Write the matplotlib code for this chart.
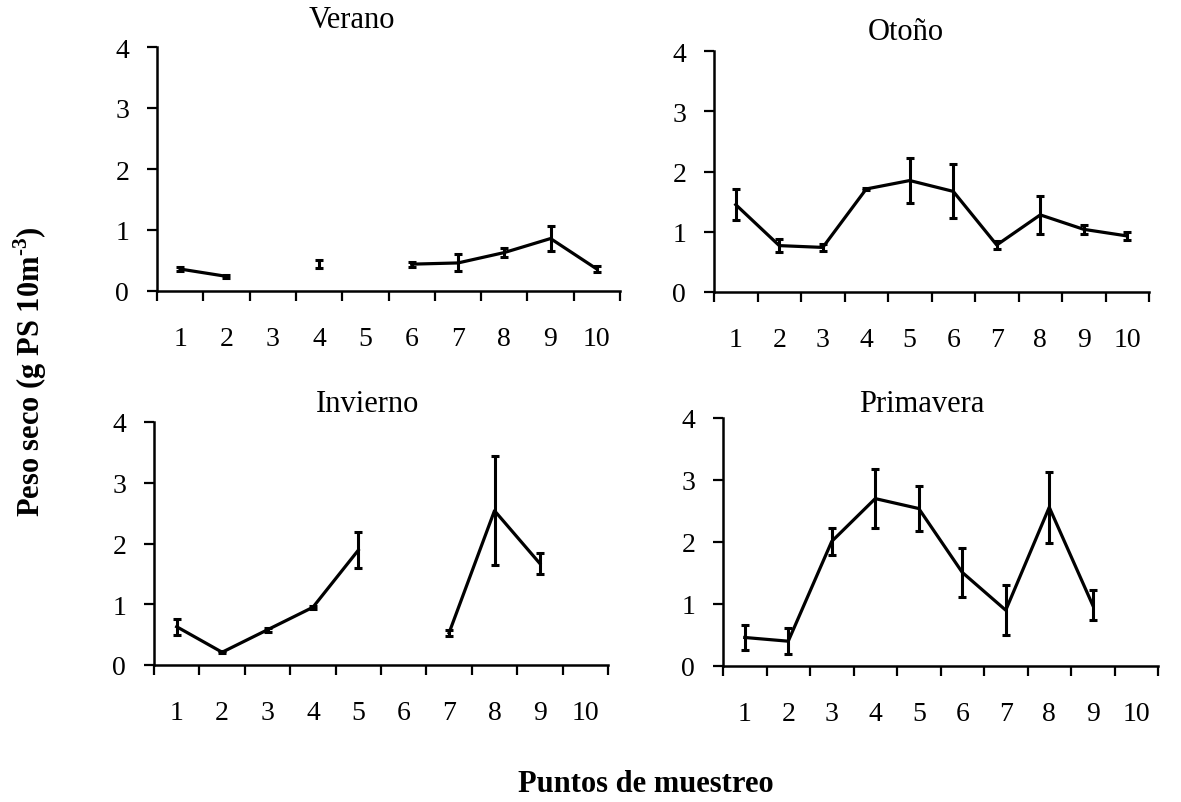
import numpy as np
import matplotlib
matplotlib.use("Agg")
import matplotlib.pyplot as plt
from matplotlib.ticker import FixedLocator, NullFormatter

plt.rcParams['font.family'] = ['Liberation Serif', 'DejaVu Serif']
plt.rcParams['mathtext.fontset'] = 'custom'
plt.rcParams['mathtext.rm'] = 'Liberation Serif:bold'
plt.rcParams['mathtext.bf'] = 'Liberation Serif:bold'

nan = np.nan
puntos = [1, 2, 3, 4, 5, 6, 7, 8, 9, 10]
point_labels = ["1", "2", "3", "4", "5", "6", "7", "8", "9", "10"]

verano = [0.36, 0.24, nan, 0.44, nan, 0.44, 0.46, 0.63, 0.86, 0.36]
verano_err = [0.03, 0.03, nan, 0.07, nan, 0.04, 0.14, 0.07, 0.20, 0.05]

otono = [1.45, 0.77, 0.74, 1.71, 1.85, 1.67, 0.78, 1.28, 1.04, 0.93]
otono_err = [0.26, 0.11, 0.06, 0.02, 0.38, 0.45, 0.06, 0.31, 0.07, 0.06]

invierno = [0.63, 0.21, 0.58, 0.95, 1.89, nan, 0.53, 2.54, 1.67, nan]
invierno_err = [0.13, 0.02, 0.03, 0.02, 0.30, nan, 0.05, 0.90, 0.17, nan]

primavera = [0.46, 0.40, 2.01, 2.70, 2.54, 1.51, 0.90, 2.56, 0.98, nan]
primavera_err = [0.20, 0.21, 0.22, 0.48, 0.37, 0.39, 0.40, 0.57, 0.24, nan]

# (title, values, errors, axes box in pixels, title centre in pixels)
panels = [
    ("Verano", verano, verano_err, [157, 48, 620, 292], (352, 20)),
    ("Otoño", otono, otono_err, [714, 52, 1149, 293], (906, 32)),
    ("Invierno", invierno, invierno_err, [154, 423, 608, 666], (368, 405)),
    ("Primavera", primavera, primavera_err, [723, 419, 1158, 667], (922, 405)),
]

W, H = 1181, 803
fig = plt.figure(figsize=(W / 100, H / 100), dpi=100)

for title, vals, errs, (x0, y0, x1, y1), (tx, ty) in panels:
    ax = fig.add_axes([x0 / W, 1 - y1 / H, (x1 - x0) / W, (y1 - y0) / H])
    ax.errorbar(puntos, vals, yerr=errs, color='black', lw=2.3,
                elinewidth=2.2, capsize=2.6, capthick=2.2, zorder=3)
    ax.set_xlim(0.5, 10.5)
    ax.set_ylim(0, 4)
    ax.set_yticks([0, 1, 2, 3, 4])
    ax.set_yticklabels(["0", "1", "2", "3", "4"])
    # category boundaries carry the tick marks, labels sit at the centres
    ax.xaxis.set_major_locator(FixedLocator(np.arange(0.5, 11.0, 1.0)))
    ax.xaxis.set_major_formatter(NullFormatter())
    ax.xaxis.set_minor_locator(FixedLocator(puntos))
    ax.set_xticklabels(point_labels, minor=True)
    ax.tick_params(axis='x', which='major', direction='out', length=7,
                   width=1.6, color='black')
    ax.tick_params(axis='x', which='minor', length=0, pad=25, labelsize=20)
    ax.tick_params(axis='y', direction='out', length=7, width=1.6,
                   pad=13, labelsize=20)
    for s in ['top', 'right']:
        ax.spines[s].set_visible(False)
    for s in ['left', 'bottom']:
        ax.spines[s].set_linewidth(1.8)
    fig.text(tx / W, 1 - ty / H, title, ha='center', va='center',
             fontsize=22)

fig.text(30 / W, 1 - 372 / H, r"Peso seco (g PS 10m$^{\text{-3}}$)",
         rotation=90, ha='center', va='center', fontsize=22,
         fontweight='bold')
fig.text(646 / W, 1 - 785 / H, "Puntos de muestreo", ha='center',
         va='center', fontsize=22, fontweight='bold')

fig.savefig("out.png", dpi=100)
